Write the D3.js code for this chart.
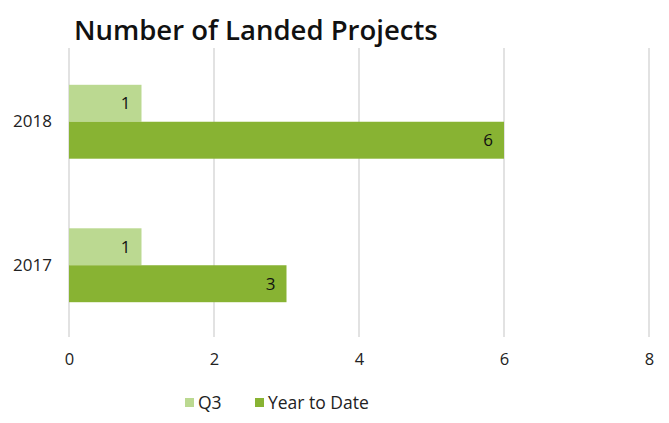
<!DOCTYPE html>
<html>
<head>
<meta charset="utf-8">
<script src="https://cdn.jsdelivr.net/npm/d3@7"></script>
<style>
  body { margin: 0; background: #fff; }
  svg { font-family: "Open Sans", sans-serif; }
</style>
</head>
<body>
<svg id="chart" width="669" height="423"></svg>
<script>
const years = ["2018", "2017"];
const seriesNames = ["Q3", "Year to Date"];
const q3Values = [1, 1];
const ytdValues = [6, 3];
const xTicks = [0, 2, 4, 6, 8];
const colors = ["#bbd991", "#88b333"];

const svg = d3.select("#chart");
const plotLeft = 69, plotRight = 649, plotTop = 50, plotBottom = 337;

let x = d3.scaleLinear().domain([0, 8]).range([plotLeft, plotRight]);
let y = d3.scaleBand().domain(years).range([plotTop, plotBottom]).paddingInner(0.485).paddingOuter(0.2425);
let sub = d3.scaleBand().domain(seriesNames).range([0, y.bandwidth()]);

// title
svg.append("text")
    .attr("x", 74).attr("y", 40)
    .style("font-size", "27.5px").style("font-weight", "600").style("fill", "#111")
    .text("Number of Landed Projects");

// gridlines
svg.append("g").selectAll("line").data(xTicks).enter().append("line")
    .attr("x1", d => x(d)).attr("x2", d => x(d))
    .attr("y1", 48).attr("y2", plotBottom)
    .style("stroke", "#d9d9d9").style("stroke-width", 1.5);

// x axis labels
let xAxis = d3.axisBottom(x).tickValues(xTicks).tickSize(0).tickPadding(0);
let gx = svg.append("g").attr("transform", "translate(0," + (plotBottom + 16) + ")").call(xAxis);
gx.select(".domain").remove();
gx.selectAll("text").style("font-size", "16.5px").style("fill", "#222")
    .style("font-family", "'Open Sans', sans-serif").attr("dy", "0.71em");

// y axis labels
let yAxis = d3.axisLeft(y).tickSize(0).tickPadding(0);
let gy = svg.append("g").attr("transform", "translate(52,0)").call(yAxis);
gy.select(".domain").remove();
gy.selectAll("text").style("font-size", "17px").style("fill", "#222")
    .style("font-family", "'Open Sans', sans-serif");

// bars
let rows = [];
years.forEach((yr, i) => {
    rows.push({ year: yr, series: seriesNames[0], value: q3Values[i], color: colors[0] });
    rows.push({ year: yr, series: seriesNames[1], value: ytdValues[i], color: colors[1] });
});

let bars = svg.append("g").selectAll("rect").data(rows).enter().append("rect")
    .attr("x", x(0))
    .attr("y", d => y(d.year) + sub(d.series))
    .attr("width", d => x(d.value) - x(0))
    .attr("height", sub.bandwidth())
    .style("fill", d => d.color);

svg.append("g").selectAll("text").data(rows).enter().append("text")
    .attr("x", d => x(d.value) - 11)
    .attr("y", d => y(d.year) + sub(d.series) + sub.bandwidth() / 2)
    .attr("dy", "0.35em")
    .attr("text-anchor", "end")
    .style("font-size", "17px").style("fill", "#111")
    .text(d => d.value);

// legend
let legend = svg.append("g").attr("transform", "translate(185,398)");
let legendX = [0, 70];
seriesNames.forEach((name, i) => {
    let g = legend.append("g").attr("transform", "translate(" + legendX[i] + ",0)");
    g.append("rect").attr("width", 9).attr("height", 9).style("fill", colors[i]);
    g.append("text").attr("x", 13).attr("y", 4.5).attr("dy", "0.35em")
        .style("font-size", "17.5px").style("fill", "#222").text(name);
});
</script>
</body>
</html>
